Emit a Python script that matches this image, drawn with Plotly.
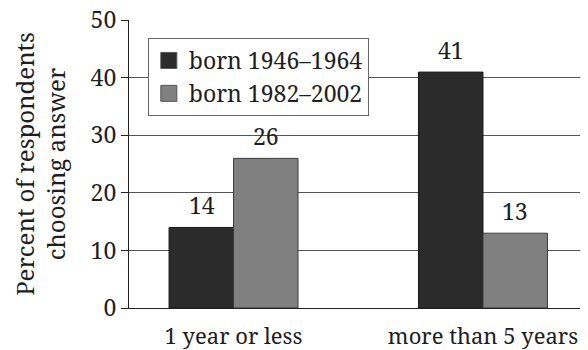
import plotly.graph_objects as go

categories = ["1 year or less", "more than 5 years"]
series_names = ["born 1946\u20131964", "born 1982\u20132002"]
born_1946_1964 = [14, 41]
born_1982_2002 = [26, 13]
y_ticks = [0, 10, 20, 30, 40, 50]

FONT = "Noto Serif"
FS = 23
TXT = "#1e1e1e"
colors = ["#2b2b2b", "#808080"]
edge = ["#1a1a1a", "#3a3a3a"]

fig = go.Figure()
for name, vals, c, e in zip(series_names, [born_1946_1964, born_1982_2002], colors, edge):
    fig.add_trace(go.Bar(
        x=categories, y=vals, name=name, showlegend=False,
        marker=dict(color=c, line=dict(color=e, width=1)),
    ))
# legend entries (larger square swatches)
for name, c in zip(series_names, colors):
    fig.add_trace(go.Scatter(
        x=[None], y=[None], mode="markers", name=name,
        marker=dict(symbol="square", size=16, color=c, line=dict(color="#555555", width=1)),
    ))

# value labels
for vals, shift in zip([born_1946_1964, born_1982_2002], [-32, 32]):
    for cat, v in zip(categories, vals):
        fig.add_annotation(x=cat, y=v, text=str(v), showarrow=False,
                           xshift=shift, yshift=4, yanchor="bottom",
                           font=dict(family=FONT, size=FS, color=TXT))

# the page body adds an 8px margin, so the figure is 8px smaller on each axis
fig.update_layout(
    width=580, height=342,
    margin=dict(l=121, r=0, t=12, b=42, autoexpand=False),
    paper_bgcolor="white", plot_bgcolor="white",
    font=dict(family=FONT, size=FS, color=TXT),
    barmode="group", bargap=0.483, bargroupgap=0,
    legend=dict(x=0.041, y=0.9375, xanchor="left", yanchor="top",
                bordercolor="#666666", borderwidth=1, bgcolor="white",
                font=dict(family=FONT, size=FS, color=TXT),
                tracegroupgap=0, itemsizing="trace"),
    showlegend=True,
)
fig.update_xaxes(
    type="category", range=[-0.419, 1.421],
    showline=True, linecolor="#222222", linewidth=1.2,
    showgrid=False, ticks="", tickfont=dict(family=FONT, size=22),
    ticklabelstandoff=8,
    automargin=False,
)
fig.update_yaxes(
    range=[0, 50.05], tickvals=y_ticks,
    showline=True, linecolor="#222222", linewidth=1.2,
    showgrid=True, gridcolor="#555555", gridwidth=1,
    zeroline=False,
    ticks="outside", ticklen=7, tickcolor="#222222", tickwidth=1,
    tickfont=dict(family=FONT, size=FS),
    ticklabeloverflow="allow",
    title=dict(text="Percent of respondents<br>choosing answer",
               font=dict(family=FONT, size=24), standoff=23),
    automargin=False,
)

fig.write_html("out.html")
